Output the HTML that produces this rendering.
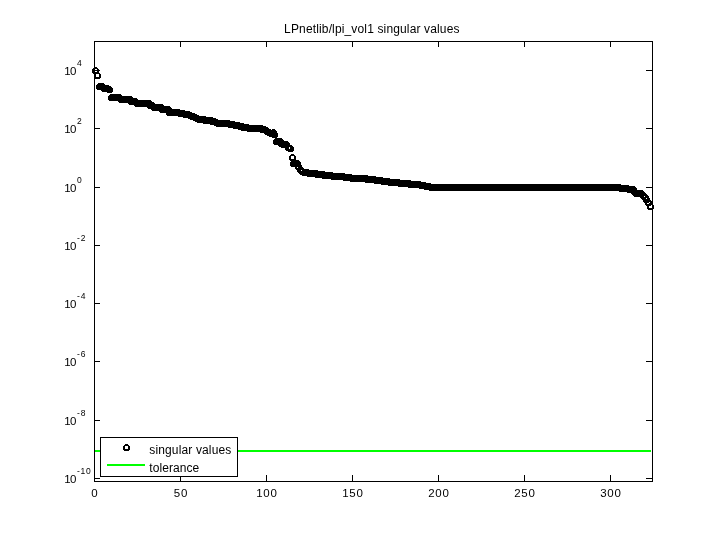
<!DOCTYPE html>
<html><head><meta charset="utf-8"><title>LPnetlib/lpi_vol1 singular values</title>
<style>
html,body{margin:0;padding:0;background:#fff;}
svg{display:block;font-family:"Liberation Sans",sans-serif;}
</style></head><body>
<svg width="720" height="540" viewBox="0 0 720 540">
<rect width="720" height="540" fill="#fff"/>
<g shape-rendering="crispEdges">
<rect x="95" y="450" width="556" height="2" fill="#0f0"/>
<rect x="94.5" y="41.5" width="558" height="440" fill="none" stroke="#000" stroke-width="1"/>
<path d="M94.5 481 v-6 M94.5 42 v5 M180.5 481 v-6 M180.5 42 v5 M266.5 481 v-6 M266.5 42 v5 M352.5 481 v-6 M352.5 42 v5 M438.5 481 v-6 M438.5 42 v5 M524.5 481 v-6 M524.5 42 v5 M610.5 481 v-6 M610.5 42 v5 M95 70.5 h5 M652 70.5 h-6 M95 128.5 h5 M652 128.5 h-6 M95 187.5 h5 M652 187.5 h-6 M95 245.5 h5 M652 245.5 h-6 M95 303.5 h5 M652 303.5 h-6 M95 361.5 h5 M652 361.5 h-6 M95 420.5 h5 M652 420.5 h-6 M95 478.5 h5 M652 478.5 h-6" stroke="#000" stroke-width="1" fill="none"/>
<g fill="none" stroke="#000" stroke-width="2" shape-rendering="crispEdges">
<circle cx="95.5" cy="70.5" r="2.5"/><circle cx="97.5" cy="75.5" r="2.5"/><circle cx="99.5" cy="86.5" r="2.5"/><circle cx="100.5" cy="86.5" r="2.5"/><circle cx="102.5" cy="86.5" r="2.5"/><circle cx="104.5" cy="88.5" r="2.5"/><circle cx="106.5" cy="88.5" r="2.5"/><circle cx="107.5" cy="88.5" r="2.5"/><circle cx="109.5" cy="89.5" r="2.5"/><circle cx="111.5" cy="97.5" r="2.5"/><circle cx="112.5" cy="97.5" r="2.5"/><circle cx="114.5" cy="97.5" r="2.5"/><circle cx="116.5" cy="97.5" r="2.5"/><circle cx="118.5" cy="97.5" r="2.5"/><circle cx="119.5" cy="97.5" r="2.5"/><circle cx="121.5" cy="99.5" r="2.5"/><circle cx="123.5" cy="99.5" r="2.5"/><circle cx="125.5" cy="99.5" r="2.5"/><circle cx="126.5" cy="99.5" r="2.5"/><circle cx="128.5" cy="99.5" r="2.5"/><circle cx="130.5" cy="99.5" r="2.5"/><circle cx="131.5" cy="101.5" r="2.5"/><circle cx="133.5" cy="101.5" r="2.5"/><circle cx="135.5" cy="101.5" r="2.5"/><circle cx="137.5" cy="103.5" r="2.5"/><circle cx="138.5" cy="103.5" r="2.5"/><circle cx="140.5" cy="103.5" r="2.5"/><circle cx="142.5" cy="103.5" r="2.5"/><circle cx="143.5" cy="103.5" r="2.5"/><circle cx="145.5" cy="103.5" r="2.5"/><circle cx="147.5" cy="103.5" r="2.5"/><circle cx="149.5" cy="103.5" r="2.5"/><circle cx="150.5" cy="105.5" r="2.5"/><circle cx="152.5" cy="105.5" r="2.5"/><circle cx="154.5" cy="107.5" r="2.5"/><circle cx="156.5" cy="107.5" r="2.5"/><circle cx="157.5" cy="107.5" r="2.5"/><circle cx="159.5" cy="107.5" r="2.5"/><circle cx="161.5" cy="107.5" r="2.5"/><circle cx="162.5" cy="109.5" r="2.5"/><circle cx="164.5" cy="109.5" r="2.5"/><circle cx="166.5" cy="109.5" r="2.5"/><circle cx="168.5" cy="109.5" r="2.5"/><circle cx="169.5" cy="112.5" r="2.5"/><circle cx="171.5" cy="112.5" r="2.5"/><circle cx="173.5" cy="112.5" r="2.5"/><circle cx="174.5" cy="112.5" r="2.5"/><circle cx="176.5" cy="112.5" r="2.5"/><circle cx="178.5" cy="112.5" r="2.5"/><circle cx="180.5" cy="113.5" r="2.5"/><circle cx="181.5" cy="113.5" r="2.5"/><circle cx="183.5" cy="113.5" r="2.5"/><circle cx="185.5" cy="114.5" r="2.5"/><circle cx="187.5" cy="114.5" r="2.5"/><circle cx="188.5" cy="114.5" r="2.5"/><circle cx="190.5" cy="115.5" r="2.5"/><circle cx="192.5" cy="116.5" r="2.5"/><circle cx="193.5" cy="116.5" r="2.5"/><circle cx="195.5" cy="117.5" r="2.5"/><circle cx="197.5" cy="118.5" r="2.5"/><circle cx="199.5" cy="119.5" r="2.5"/><circle cx="200.5" cy="119.5" r="2.5"/><circle cx="202.5" cy="119.5" r="2.5"/><circle cx="204.5" cy="119.5" r="2.5"/><circle cx="205.5" cy="120.5" r="2.5"/><circle cx="207.5" cy="120.5" r="2.5"/><circle cx="209.5" cy="120.5" r="2.5"/><circle cx="211.5" cy="120.5" r="2.5"/><circle cx="212.5" cy="121.5" r="2.5"/><circle cx="214.5" cy="121.5" r="2.5"/><circle cx="216.5" cy="122.5" r="2.5"/><circle cx="218.5" cy="123.5" r="2.5"/><circle cx="219.5" cy="123.5" r="2.5"/><circle cx="221.5" cy="123.5" r="2.5"/><circle cx="223.5" cy="123.5" r="2.5"/><circle cx="224.5" cy="123.5" r="2.5"/><circle cx="226.5" cy="123.5" r="2.5"/><circle cx="228.5" cy="123.5" r="2.5"/><circle cx="230.5" cy="124.5" r="2.5"/><circle cx="231.5" cy="124.5" r="2.5"/><circle cx="233.5" cy="124.5" r="2.5"/><circle cx="235.5" cy="125.5" r="2.5"/><circle cx="236.5" cy="125.5" r="2.5"/><circle cx="238.5" cy="125.5" r="2.5"/><circle cx="240.5" cy="126.5" r="2.5"/><circle cx="242.5" cy="126.5" r="2.5"/><circle cx="243.5" cy="127.5" r="2.5"/><circle cx="245.5" cy="127.5" r="2.5"/><circle cx="247.5" cy="127.5" r="2.5"/><circle cx="249.5" cy="128.5" r="2.5"/><circle cx="250.5" cy="128.5" r="2.5"/><circle cx="252.5" cy="128.5" r="2.5"/><circle cx="254.5" cy="128.5" r="2.5"/><circle cx="255.5" cy="128.5" r="2.5"/><circle cx="257.5" cy="128.5" r="2.5"/><circle cx="259.5" cy="128.5" r="2.5"/><circle cx="261.5" cy="128.5" r="2.5"/><circle cx="262.5" cy="129.5" r="2.5"/><circle cx="264.5" cy="129.5" r="2.5"/><circle cx="266.5" cy="130.5" r="2.5"/><circle cx="267.5" cy="131.5" r="2.5"/><circle cx="269.5" cy="132.5" r="2.5"/><circle cx="271.5" cy="133.5" r="2.5"/><circle cx="273.5" cy="132.5" r="2.5"/><circle cx="274.5" cy="134.5" r="2.5"/><circle cx="276.5" cy="141.5" r="2.5"/><circle cx="278.5" cy="141.5" r="2.5"/><circle cx="280.5" cy="141.5" r="2.5"/><circle cx="281.5" cy="143.5" r="2.5"/><circle cx="283.5" cy="144.5" r="2.5"/><circle cx="285.5" cy="144.5" r="2.5"/><circle cx="286.5" cy="144.5" r="2.5"/><circle cx="288.5" cy="147.5" r="2.5"/><circle cx="290.5" cy="148.5" r="2.5"/><circle cx="292.5" cy="157.5" r="2.5"/><circle cx="293.5" cy="163.5" r="2.5"/><circle cx="295.5" cy="163.5" r="2.5"/><circle cx="297.5" cy="163.5" r="2.5"/><circle cx="298.5" cy="166.5" r="2.5"/><circle cx="300.5" cy="169.5" r="2.5"/><circle cx="302.5" cy="171.5" r="2.5"/><circle cx="304.5" cy="172.5" r="2.5"/><circle cx="305.5" cy="172.5" r="2.5"/><circle cx="307.5" cy="172.5" r="2.5"/><circle cx="309.5" cy="173.5" r="2.5"/><circle cx="311.5" cy="173.5" r="2.5"/><circle cx="312.5" cy="173.5" r="2.5"/><circle cx="314.5" cy="173.5" r="2.5"/><circle cx="316.5" cy="173.5" r="2.5"/><circle cx="317.5" cy="174.5" r="2.5"/><circle cx="319.5" cy="174.5" r="2.5"/><circle cx="321.5" cy="174.5" r="2.5"/><circle cx="323.5" cy="174.5" r="2.5"/><circle cx="324.5" cy="175.5" r="2.5"/><circle cx="326.5" cy="175.5" r="2.5"/><circle cx="328.5" cy="175.5" r="2.5"/><circle cx="329.5" cy="175.5" r="2.5"/><circle cx="331.5" cy="175.5" r="2.5"/><circle cx="333.5" cy="176.5" r="2.5"/><circle cx="335.5" cy="176.5" r="2.5"/><circle cx="336.5" cy="176.5" r="2.5"/><circle cx="338.5" cy="176.5" r="2.5"/><circle cx="340.5" cy="176.5" r="2.5"/><circle cx="342.5" cy="176.5" r="2.5"/><circle cx="343.5" cy="176.5" r="2.5"/><circle cx="345.5" cy="177.5" r="2.5"/><circle cx="347.5" cy="177.5" r="2.5"/><circle cx="348.5" cy="177.5" r="2.5"/><circle cx="350.5" cy="177.5" r="2.5"/><circle cx="352.5" cy="178.5" r="2.5"/><circle cx="354.5" cy="178.5" r="2.5"/><circle cx="355.5" cy="178.5" r="2.5"/><circle cx="357.5" cy="178.5" r="2.5"/><circle cx="359.5" cy="178.5" r="2.5"/><circle cx="360.5" cy="178.5" r="2.5"/><circle cx="362.5" cy="178.5" r="2.5"/><circle cx="364.5" cy="178.5" r="2.5"/><circle cx="366.5" cy="178.5" r="2.5"/><circle cx="367.5" cy="179.5" r="2.5"/><circle cx="369.5" cy="179.5" r="2.5"/><circle cx="371.5" cy="179.5" r="2.5"/><circle cx="373.5" cy="179.5" r="2.5"/><circle cx="374.5" cy="179.5" r="2.5"/><circle cx="376.5" cy="180.5" r="2.5"/><circle cx="378.5" cy="180.5" r="2.5"/><circle cx="379.5" cy="180.5" r="2.5"/><circle cx="381.5" cy="180.5" r="2.5"/><circle cx="383.5" cy="181.5" r="2.5"/><circle cx="385.5" cy="181.5" r="2.5"/><circle cx="386.5" cy="181.5" r="2.5"/><circle cx="388.5" cy="181.5" r="2.5"/><circle cx="390.5" cy="182.5" r="2.5"/><circle cx="391.5" cy="182.5" r="2.5"/><circle cx="393.5" cy="182.5" r="2.5"/><circle cx="395.5" cy="182.5" r="2.5"/><circle cx="397.5" cy="182.5" r="2.5"/><circle cx="398.5" cy="182.5" r="2.5"/><circle cx="400.5" cy="183.5" r="2.5"/><circle cx="402.5" cy="183.5" r="2.5"/><circle cx="404.5" cy="183.5" r="2.5"/><circle cx="405.5" cy="183.5" r="2.5"/><circle cx="407.5" cy="183.5" r="2.5"/><circle cx="409.5" cy="183.5" r="2.5"/><circle cx="410.5" cy="184.5" r="2.5"/><circle cx="412.5" cy="184.5" r="2.5"/><circle cx="414.5" cy="184.5" r="2.5"/><circle cx="416.5" cy="184.5" r="2.5"/><circle cx="417.5" cy="184.5" r="2.5"/><circle cx="419.5" cy="184.5" r="2.5"/><circle cx="421.5" cy="185.5" r="2.5"/><circle cx="422.5" cy="185.5" r="2.5"/><circle cx="424.5" cy="185.5" r="2.5"/><circle cx="426.5" cy="186.5" r="2.5"/><circle cx="428.5" cy="186.5" r="2.5"/><circle cx="429.5" cy="186.5" r="2.5"/><circle cx="431.5" cy="187.5" r="2.5"/><circle cx="433.5" cy="187.5" r="2.5"/><circle cx="435.5" cy="187.5" r="2.5"/><circle cx="436.5" cy="187.5" r="2.5"/><circle cx="438.5" cy="187.5" r="2.5"/><circle cx="440.5" cy="187.5" r="2.5"/><circle cx="441.5" cy="187.5" r="2.5"/><circle cx="443.5" cy="187.5" r="2.5"/><circle cx="445.5" cy="187.5" r="2.5"/><circle cx="447.5" cy="187.5" r="2.5"/><circle cx="448.5" cy="187.5" r="2.5"/><circle cx="450.5" cy="187.5" r="2.5"/><circle cx="452.5" cy="187.5" r="2.5"/><circle cx="453.5" cy="187.5" r="2.5"/><circle cx="455.5" cy="187.5" r="2.5"/><circle cx="457.5" cy="187.5" r="2.5"/><circle cx="459.5" cy="187.5" r="2.5"/><circle cx="460.5" cy="187.5" r="2.5"/><circle cx="462.5" cy="187.5" r="2.5"/><circle cx="464.5" cy="187.5" r="2.5"/><circle cx="466.5" cy="187.5" r="2.5"/><circle cx="467.5" cy="187.5" r="2.5"/><circle cx="469.5" cy="187.5" r="2.5"/><circle cx="471.5" cy="187.5" r="2.5"/><circle cx="472.5" cy="187.5" r="2.5"/><circle cx="474.5" cy="187.5" r="2.5"/><circle cx="476.5" cy="187.5" r="2.5"/><circle cx="478.5" cy="187.5" r="2.5"/><circle cx="479.5" cy="187.5" r="2.5"/><circle cx="481.5" cy="187.5" r="2.5"/><circle cx="483.5" cy="187.5" r="2.5"/><circle cx="484.5" cy="187.5" r="2.5"/><circle cx="486.5" cy="187.5" r="2.5"/><circle cx="488.5" cy="187.5" r="2.5"/><circle cx="490.5" cy="187.5" r="2.5"/><circle cx="491.5" cy="187.5" r="2.5"/><circle cx="493.5" cy="187.5" r="2.5"/><circle cx="495.5" cy="187.5" r="2.5"/><circle cx="497.5" cy="187.5" r="2.5"/><circle cx="498.5" cy="187.5" r="2.5"/><circle cx="500.5" cy="187.5" r="2.5"/><circle cx="502.5" cy="187.5" r="2.5"/><circle cx="503.5" cy="187.5" r="2.5"/><circle cx="505.5" cy="187.5" r="2.5"/><circle cx="507.5" cy="187.5" r="2.5"/><circle cx="509.5" cy="187.5" r="2.5"/><circle cx="510.5" cy="187.5" r="2.5"/><circle cx="512.5" cy="187.5" r="2.5"/><circle cx="514.5" cy="187.5" r="2.5"/><circle cx="515.5" cy="187.5" r="2.5"/><circle cx="517.5" cy="187.5" r="2.5"/><circle cx="519.5" cy="187.5" r="2.5"/><circle cx="521.5" cy="187.5" r="2.5"/><circle cx="522.5" cy="187.5" r="2.5"/><circle cx="524.5" cy="187.5" r="2.5"/><circle cx="526.5" cy="187.5" r="2.5"/><circle cx="528.5" cy="187.5" r="2.5"/><circle cx="529.5" cy="187.5" r="2.5"/><circle cx="531.5" cy="187.5" r="2.5"/><circle cx="533.5" cy="187.5" r="2.5"/><circle cx="534.5" cy="187.5" r="2.5"/><circle cx="536.5" cy="187.5" r="2.5"/><circle cx="538.5" cy="187.5" r="2.5"/><circle cx="540.5" cy="187.5" r="2.5"/><circle cx="541.5" cy="187.5" r="2.5"/><circle cx="543.5" cy="187.5" r="2.5"/><circle cx="545.5" cy="187.5" r="2.5"/><circle cx="546.5" cy="187.5" r="2.5"/><circle cx="548.5" cy="187.5" r="2.5"/><circle cx="550.5" cy="187.5" r="2.5"/><circle cx="552.5" cy="187.5" r="2.5"/><circle cx="553.5" cy="187.5" r="2.5"/><circle cx="555.5" cy="187.5" r="2.5"/><circle cx="557.5" cy="187.5" r="2.5"/><circle cx="559.5" cy="187.5" r="2.5"/><circle cx="560.5" cy="187.5" r="2.5"/><circle cx="562.5" cy="187.5" r="2.5"/><circle cx="564.5" cy="187.5" r="2.5"/><circle cx="565.5" cy="187.5" r="2.5"/><circle cx="567.5" cy="187.5" r="2.5"/><circle cx="569.5" cy="187.5" r="2.5"/><circle cx="571.5" cy="187.5" r="2.5"/><circle cx="572.5" cy="187.5" r="2.5"/><circle cx="574.5" cy="187.5" r="2.5"/><circle cx="576.5" cy="187.5" r="2.5"/><circle cx="577.5" cy="187.5" r="2.5"/><circle cx="579.5" cy="187.5" r="2.5"/><circle cx="581.5" cy="187.5" r="2.5"/><circle cx="583.5" cy="187.5" r="2.5"/><circle cx="584.5" cy="187.5" r="2.5"/><circle cx="586.5" cy="187.5" r="2.5"/><circle cx="588.5" cy="187.5" r="2.5"/><circle cx="590.5" cy="187.5" r="2.5"/><circle cx="591.5" cy="187.5" r="2.5"/><circle cx="593.5" cy="187.5" r="2.5"/><circle cx="595.5" cy="187.5" r="2.5"/><circle cx="596.5" cy="187.5" r="2.5"/><circle cx="598.5" cy="187.5" r="2.5"/><circle cx="600.5" cy="187.5" r="2.5"/><circle cx="602.5" cy="187.5" r="2.5"/><circle cx="603.5" cy="187.5" r="2.5"/><circle cx="605.5" cy="187.5" r="2.5"/><circle cx="607.5" cy="187.5" r="2.5"/><circle cx="608.5" cy="187.5" r="2.5"/><circle cx="610.5" cy="187.5" r="2.5"/><circle cx="612.5" cy="187.5" r="2.5"/><circle cx="614.5" cy="187.5" r="2.5"/><circle cx="615.5" cy="187.5" r="2.5"/><circle cx="617.5" cy="187.5" r="2.5"/><circle cx="619.5" cy="187.5" r="2.5"/><circle cx="621.5" cy="188.5" r="2.5"/><circle cx="622.5" cy="188.5" r="2.5"/><circle cx="624.5" cy="188.5" r="2.5"/><circle cx="626.5" cy="188.5" r="2.5"/><circle cx="627.5" cy="188.5" r="2.5"/><circle cx="629.5" cy="189.5" r="2.5"/><circle cx="631.5" cy="189.5" r="2.5"/><circle cx="633.5" cy="189.5" r="2.5"/><circle cx="634.5" cy="191.5" r="2.5"/><circle cx="636.5" cy="193.5" r="2.5"/><circle cx="638.5" cy="193.5" r="2.5"/><circle cx="639.5" cy="193.5" r="2.5"/><circle cx="641.5" cy="193.5" r="2.5"/><circle cx="643.5" cy="195.5" r="2.5"/><circle cx="645.5" cy="197.5" r="2.5"/><circle cx="646.5" cy="199.5" r="2.5"/><circle cx="648.5" cy="202.5" r="2.5"/><circle cx="650.5" cy="206.5" r="2.5"/>
</g>
<rect x="100.5" y="437.5" width="137" height="39" fill="#fff" stroke="#000" stroke-width="1"/>
<circle cx="126.5" cy="447.5" r="2.5" fill="none" stroke="#000" stroke-width="2"/>
<rect x="107" y="464" width="38" height="2" fill="#0f0"/>
</g>
<g font-size="11.5" fill="#000">
<text x="94.5" y="497" text-anchor="middle" textLength="5.5" lengthAdjust="spacing">0</text>
<text x="180.5" y="497" text-anchor="middle" textLength="13.7" lengthAdjust="spacing">50</text>
<text x="266.5" y="497" text-anchor="middle" textLength="20.6" lengthAdjust="spacing">100</text>
<text x="352.5" y="497" text-anchor="middle" textLength="20.6" lengthAdjust="spacing">150</text>
<text x="438.5" y="497" text-anchor="middle" textLength="20.6" lengthAdjust="spacing">200</text>
<text x="524.5" y="497" text-anchor="middle" textLength="20.6" lengthAdjust="spacing">250</text>
<text x="610.5" y="497" text-anchor="middle" textLength="20.6" lengthAdjust="spacing">300</text>
<text x="64.2" y="75" textLength="12.3" lengthAdjust="spacing">10</text>
<text x="77" y="66" font-size="8.5" textLength="5" lengthAdjust="spacing">4</text>
<text x="64.2" y="133" textLength="12.3" lengthAdjust="spacing">10</text>
<text x="77" y="124" font-size="8.5" textLength="5" lengthAdjust="spacing">2</text>
<text x="64.2" y="192" textLength="12.3" lengthAdjust="spacing">10</text>
<text x="77" y="183" font-size="8.5" textLength="5" lengthAdjust="spacing">0</text>
<text x="64.2" y="250" textLength="12.3" lengthAdjust="spacing">10</text>
<text x="77" y="241" font-size="8.5" textLength="8.4" lengthAdjust="spacing">-2</text>
<text x="64.2" y="308" textLength="12.3" lengthAdjust="spacing">10</text>
<text x="77" y="299" font-size="8.5" textLength="8.4" lengthAdjust="spacing">-4</text>
<text x="64.2" y="366" textLength="12.3" lengthAdjust="spacing">10</text>
<text x="77" y="357" font-size="8.5" textLength="8.4" lengthAdjust="spacing">-6</text>
<text x="64.2" y="425" textLength="12.3" lengthAdjust="spacing">10</text>
<text x="77" y="416" font-size="8.5" textLength="8.4" lengthAdjust="spacing">-8</text>
<text x="64.2" y="483" textLength="12.3" lengthAdjust="spacing">10</text>
<text x="77" y="474" font-size="8.5" textLength="13.7" lengthAdjust="spacing">-10</text>
</g>
<g font-size="12" fill="#000">
<text x="284.1" y="33" textLength="175.4" lengthAdjust="spacing">LPnetlib/lpi_vol1 singular values</text>
<text x="149.3" y="453.5" textLength="82" lengthAdjust="spacing">singular values</text>
<text x="149.3" y="471.5" textLength="50" lengthAdjust="spacing">tolerance</text>
</g>
</svg>
</body></html>
